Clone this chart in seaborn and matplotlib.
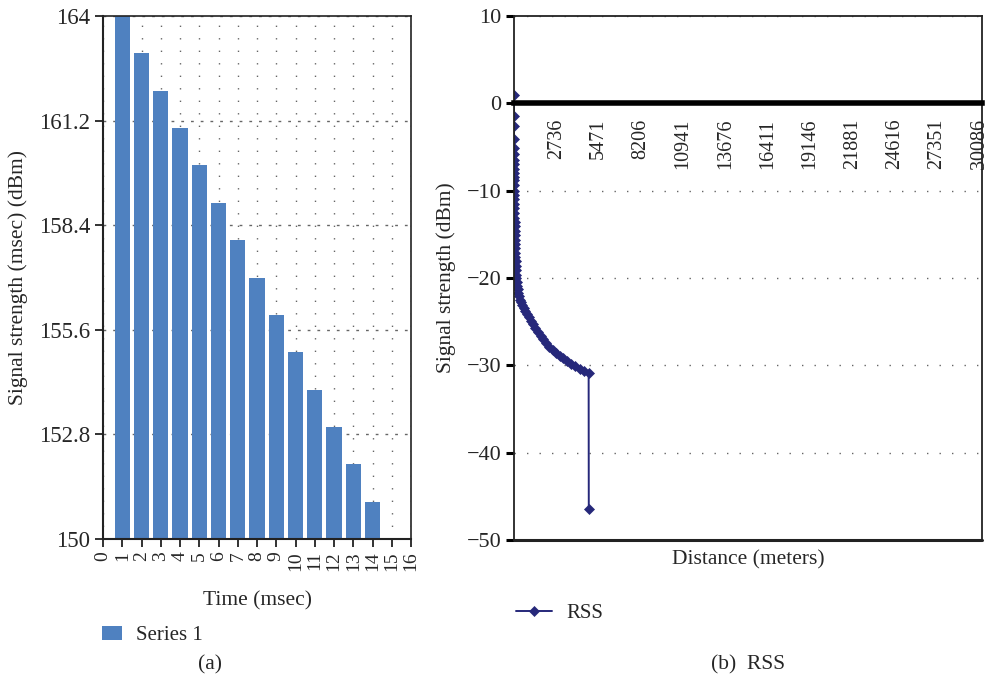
"""Signal strength over time (bars) and RSS over distance (line)."""

import matplotlib

matplotlib.use("Agg")
import matplotlib.pyplot as plt
import seaborn as sns

# (a) signal strength per time step
time_ms = [1, 2, 3, 4, 5, 6, 7, 8, 9, 10, 11, 12, 13, 14]
strength = [164, 163, 162, 161, 160, 159, 158, 157, 156, 155, 154, 153, 152, 151]
a_yticks = [150, 152.8, 155.6, 158.4, 161.2, 164]
a_yticklabels = ["150", "152.8", "155.6", "158.4", "161.2", "164"]

# (b) RSS vs distance
distance_m = [
    1, 2, 3, 4, 5, 6, 7, 8, 9, 10, 11, 12, 14, 16, 18, 20, 23, 26, 30, 34,
    38, 43, 48, 54, 60, 67, 75, 84, 94, 105, 117, 130, 145, 160,
    190, 220, 250, 290, 340, 400, 470, 550, 640, 740, 850, 970, 1100, 1240,
    1390, 1550, 1720, 1900, 2090, 2290, 2500, 2720, 2950, 3190, 3440, 3700,
    3970, 4250, 4540, 4830, 4840,
]
rss_dbm = [
    1.0, -1.5, -2.6, -4.1, -5.1, -5.8, -6.5, -7.0, -7.5, -8.0, -8.4, -8.8,
    -9.4, -10.0, -10.5, -11.0, -11.5, -12.0, -12.6, -13.1, -13.6, -14.1,
    -14.6, -15.1, -15.6, -16.1, -16.6, -17.1, -17.6, -18.1, -18.6, -19.1,
    -19.6, -20.0,
    -20.4, -20.9, -21.3, -21.7, -22.1, -22.5, -22.8, -23.1, -23.4, -23.8,
    -24.1, -24.5, -24.9, -25.3, -25.7, -26.2, -26.6, -27.0, -27.4, -27.9,
    -28.2, -28.6, -28.9, -29.2, -29.5, -29.8, -30.1, -30.4, -30.7, -30.9,
    -46.4,
]
b_xticks = [2736, 5471, 8206, 10941, 13676, 16411, 19146, 21881, 24616, 27351, 30086]
b_yticks = [-50, -40, -30, -20, -10, 0, 10]

BAR_BLUE = "#4F81C0"
NAVY = "#26287A"
FRAME = "#222222"
GRID = "#666666"


def main() -> None:
    sns.set_theme(style="white")
    plt.rcParams["font.family"] = ["Liberation Serif", "DejaVu Serif"]

    fig = plt.figure(figsize=(9.85, 6.82), dpi=100)
    ax_a = fig.add_axes([0.1046, 0.2097, 0.3127, 0.7668])
    ax_b = fig.add_axes([0.5218, 0.2082, 0.4752, 0.7683])

    # ---- (a) bars ----
    sns.barplot(
        x=time_ms,
        y=strength,
        native_scale=True,
        width=0.8,
        color=BAR_BLUE,
        saturation=1,
        linewidth=0,
        label="Series 1",
        ax=ax_a,
    )
    ax_a.set_xlim(0, 16)
    ax_a.set_ylim(150, 164)
    ax_a.set_xticks(range(17))
    ax_a.set_xticklabels([str(i) for i in range(17)], rotation=90, fontsize=14)
    ax_a.set_yticks(a_yticks)
    ax_a.set_yticklabels(a_yticklabels, fontsize=16.5)
    ax_a.set_axisbelow(True)
    ax_a.grid(axis="x", ls=(0, (1, 8)), color=GRID, lw=1)
    ax_a.grid(axis="y", ls=(0, (2, 5)), color=GRID, lw=1)
    for side, sp in ax_a.spines.items():
        sp.set_color(FRAME)
        sp.set_linewidth(1.5 if side in ("left", "bottom") else 1.2)
    ax_a.tick_params(axis="both", which="major", bottom=True, left=True,
                     direction="out", length=6, width=1.3, color=FRAME, pad=3)
    ax_a.set_xlabel("Time (msec)", fontsize=15.5)
    ax_a.xaxis.set_label_coords(0.5, -0.1)
    ax_a.set_ylabel("Signal strength (msec) (dBm)", fontsize=15.5)
    ax_a.yaxis.set_label_coords(-0.245, 0.5)
    ax_a.legend(loc="center left", bbox_to_anchor=(-0.063, -0.185), frameon=False,
                fontsize=15, handlelength=0.95, handleheight=0.65, handletextpad=0.65)

    # ---- (b) line ----
    sns.lineplot(
        x=distance_m,
        y=rss_dbm,
        sort=False,
        estimator=None,
        color=NAVY,
        lw=1.4,
        marker="D",
        markersize=5,
        markeredgecolor=NAVY,
        markeredgewidth=0.5,
        label="RSS",
        ax=ax_b,
    )
    for sp in ax_b.spines.values():
        sp.set_color(FRAME)
        sp.set_linewidth(1.3)
    # category axis crosses at zero (set before ticks: this resets them)
    ax_b.spines["bottom"].set_position(("data", 0))
    ax_b.spines["bottom"].set_color("black")
    ax_b.spines["bottom"].set_linewidth(4)
    ax_b.set_xlim(0, 30280)
    ax_b.set_ylim(-50, 10)
    ax_b.set_xticks(b_xticks)
    ax_b.set_xticklabels([str(v) for v in b_xticks], rotation=90, fontsize=14.5)
    ax_b.set_yticks(b_yticks)
    ax_b.set_yticklabels([str(v).replace("-", "\u2212") for v in b_yticks], fontsize=16)
    ax_b.grid(axis="y", ls=(0, (1, 8)), color=GRID, lw=1)
    ax_b.axhline(-50, color=FRAME, lw=2.2, clip_on=False)
    ax_b.tick_params(axis="x", bottom=True, length=0, pad=11)
    ax_b.tick_params(axis="y", left=True, direction="out", length=6, width=2.2,
                     color="black", pad=3)
    ax_b.set_xlabel("Distance (meters)", fontsize=15.5)
    ax_b.xaxis.set_label_coords(0.5, -0.02)
    ax_b.set_ylabel("Signal strength (dBm)", fontsize=15.5)
    ax_b.yaxis.set_label_coords(-0.124, 0.5)
    ax_b.legend(loc="center left", bbox_to_anchor=(-0.035, -0.14), frameon=False,
                fontsize=15, handlelength=1.7, handletextpad=0.7)

    fig.text(210 / 985, 1 - 665 / 682, "(a)", ha="center", va="center", fontsize=15.5)
    fig.text(748 / 985, 1 - 665 / 682, "(b)  RSS", ha="center", va="center", fontsize=15.5)

    fig.savefig("out.png", dpi=100)
    plt.close(fig)


if __name__ == "__main__":
    main()
